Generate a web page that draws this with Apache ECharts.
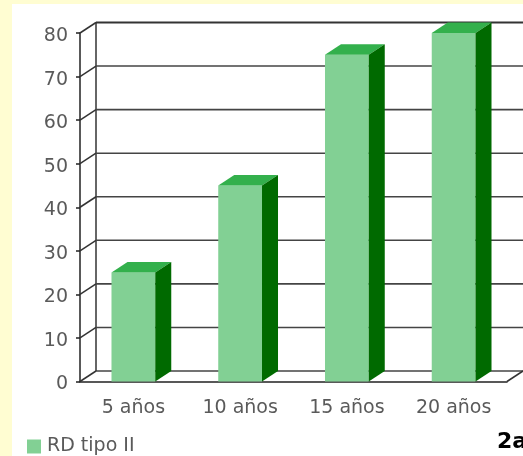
<!DOCTYPE html>
<html><head><meta charset="utf-8">
<script src="https://cdn.jsdelivr.net/npm/echarts@6/dist/echarts.min.js"></script>
<style>
html,body{margin:0;padding:0;background:#fffdd2;}
#panel{position:absolute;left:12px;top:4px;right:0;bottom:0;background:#fff;}
#c{position:absolute;left:0;top:0;width:523px;height:456px;}
</style>
</head><body><div id="panel"></div><div id="c"></div>
<script>
const categories = ['5 años', '10 años', '15 años', '20 años'];
const seriesName = 'RD tipo II';
const values = [25, 45, 75, 80];
const yTicks = [0, 10, 20, 30, 40, 50, 60, 70, 80];
const cornerText = '2a';

const DX = 16, DY = -10.5;
const FONT = '"DejaVu Sans", Verdana, sans-serif';
const chart = echarts.init(document.getElementById('c'), null, {renderer: 'canvas'});

chart.setOption({
  backgroundColor: 'transparent',
  animation: false,
  graphic: [{
    type: 'text', left: 497, top: 431, z: 100,
    style: {text: cornerText, font: 'bold 22px ' + FONT, fill: '#000'}
  }],
  grid: {left: 80, right: 16, top: 33, bottom: 74.5},
  legend: {
    data: [seriesName], left: 22, top: 432, icon: 'rect',
    itemWidth: 14, itemHeight: 14,
    textStyle: {fontSize: 19, fontFamily: FONT, color: '#5a5a5a', padding: [0, 0, 0, 1]}
  },
  xAxis: {
    type: 'category', data: categories, boundaryGap: true,
    axisLine: {lineStyle: {color: '#222', width: 1.5}},
    axisTick: {length: 6, lineStyle: {color: '#222', width: 1.5}},
    axisLabel: {margin: 17, fontSize: 19, fontFamily: FONT, color: '#5a5a5a'}
  },
  yAxis: {
    type: 'value', min: 0, max: 80, interval: 10,
    axisLine: {show: true, lineStyle: {color: '#222', width: 1.5}},
    axisTick: {show: true, length: 4, lineStyle: {color: '#222', width: 1.5}},
    splitLine: {show: false},
    axisLabel: {
      margin: 12, formatter: '{v|{value}}',
      rich: {v: {fontSize: 19, fontFamily: FONT, color: '#5a5a5a', padding: [6, 0, 0, 0]}}
    }
  },
  series: [
    {
      type: 'custom', name: 'frame', silent: true, z: 1,
      data: yTicks.map(v => [0, v]),
      renderItem: function (params, api) {
        const cs = params.coordSys;
        const v = api.value(1);
        const y = api.coord([0, v])[1];
        const x0 = cs.x, x1 = cs.x + cs.width;
        const children = [
          {type: 'line', shape: {x1: x0, y1: y, x2: x0 + DX, y2: y + DY},
           style: {stroke: '#333', lineWidth: 1.5}},
          {type: 'line', shape: {x1: x0 + DX, y1: y + DY, x2: x1 + DX + 30, y2: y + DY},
           style: {stroke: v === 80 ? '#333' : '#444', lineWidth: v === 80 ? 2 : 1.6}}
        ];
        if (v === 0) {
          children.push({type: 'line', shape: {x1: x1, y1: y, x2: x1 + DX, y2: y + DY},
            style: {stroke: '#333', lineWidth: 1.5}});
          children.push({type: 'line', shape: {x1: x0 + DX, y1: y + DY, x2: x0 + DX, y2: cs.y + DY},
            style: {stroke: '#333', lineWidth: 1.5}});
        }
        return {type: 'group', children: children};
      }
    },
    {
      type: 'custom', name: seriesName, z: 5,
      itemStyle: {color: '#82d094'},
      data: values.map((v, i) => [i, v]),
      renderItem: function (params, api) {
        const xi = api.value(0), v = api.value(1);
        const top = api.coord([xi, v]);
        const bot = api.coord([xi, 0]);
        const bw = api.size([1, 0])[0] * 0.41;
        const l = top[0] - bw / 2, r = top[0] + bw / 2;
        const t = top[1], b = bot[1];
        return {type: 'group', children: [
          {type: 'rect', shape: {x: l, y: t, width: bw, height: b - t}, style: {fill: '#82d094'}},
          {type: 'polygon', shape: {points: [[l, t], [r, t], [r + DX, t + DY], [l + DX, t + DY]]},
           style: {fill: '#33b04c'}},
          {type: 'polygon', shape: {points: [[r, t], [r + DX, t + DY], [r + DX, b + DY], [r, b]]},
           style: {fill: '#006a00'}}
        ]};
      }
    }
  ]
});
</script>
</body></html>
